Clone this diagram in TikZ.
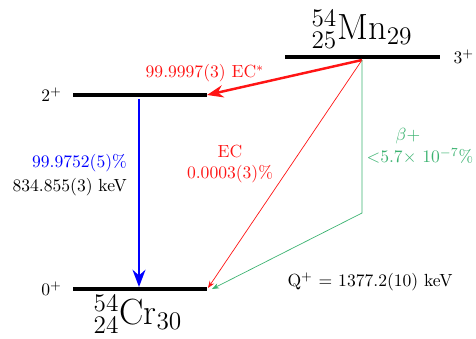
\documentclass[tikz,border=0pt]{standalone}
\usepackage{amsmath,amssymb}
\usepackage{xcolor}
\usepackage{tikz}
\usetikzlibrary{arrows.meta, positioning, calc}
\definecolor{decayred}{RGB}{255,20,20}
\definecolor{decayblue}{RGB}{0,0,255}
\definecolor{decaygreen}{RGB}{60,179,113}

\begin{document}
\begin{tikzpicture}[
  x=0.02cm, y=-0.02cm,
  level/.style={line width=1.9pt},
  nuclide/.style={font=\huge},
  spin/.style={font=\normalsize},
  ecthick/.style={-Stealth, line width=1.4pt, color=decayred},
  ecthin/.style={-{Stealth[length=4pt]}, color=decayred},
  betaline/.style={-{Stealth[length=4pt]}, color=decaygreen},
  gamma/.style={-Stealth, line width=1.5pt, color=decayblue},
  redlabel/.style={color=decayred, align=center},
]
\useasboundingbox (0,0) rectangle (476,338);

%% Parent level: 54Mn
\coordinate (mnL) at (285,57);
\coordinate (mnR) at (440,57);
\draw[level] (mnL) -- (mnR);
\node[spin, right=0.15cm of mnR] (mnspin) {$3^+$};
\node[nuclide] (mn) at (362,29) {$^{54}_{25}$Mn$_{29}$};

%% Excited level 2+
\coordinate (twoL) at (73,95);
\coordinate (twoR) at (207,95);
\draw[level] (twoL) -- (twoR);
\node[spin, left=0.1cm of twoL] (twospin) {$2^+$};

%% Ground level 0+: 54Cr
\coordinate (zeroL) at (73,289);
\coordinate (zeroR) at (207,289);
\draw[level] (zeroL) -- (zeroR);
\node[spin, left=0.1cm of zeroL] (zerospin) {$0^+$};
\node[nuclide] (cr) at (138,314) {$^{54}_{24}$Cr$_{30}$};

%% Decay branches
\coordinate (src) at (362,60);
\coordinate (bend) at (362,213);
\coordinate (gtop) at (139,99);
\coordinate (gbot) at (139,287);
\draw[ecthick] (src) -- (twoR);
\draw[ecthin] (src) -- ($(zeroR)+(1,-1)$);
\draw[betaline] (src) -- (bend) -- ($(zeroR)+(5,0)$);
\draw[gamma] (gtop) -- (gbot);

%% Labels
\node[redlabel] (eclab) at (205,73) {99.9997(3) EC$^*$};
\node[redlabel] (ecweak) at (230,164) {EC\\0.0003(3)\%};
\node[color=decaygreen] (betalab) at (408,136) {$\beta+$};
\node[color=decaygreen] (betaval) at (420,156) {$<$5.7$\times$ 10$^{-7}$\%};
\node[color=decayblue, anchor=east] (gint) at (133,163) {99.9752(5)\%};
\node[anchor=east] (gen) at (133,187) {834.855(3) keV};
\node (qval) at (370,282) {Q$^+$ = 1377.2(10) keV};

\end{tikzpicture}
\end{document}
